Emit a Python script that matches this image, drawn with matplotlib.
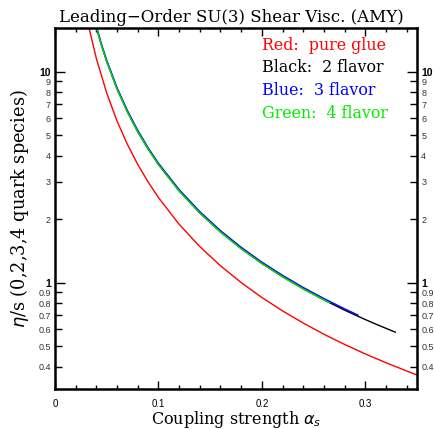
import matplotlib
matplotlib.use("Agg")
import matplotlib.pyplot as plt
from matplotlib.ticker import FixedLocator, FixedFormatter, MultipleLocator

# ---- data ----
alpha_glue = [0.0329, 0.04, 0.05, 0.06, 0.07, 0.08, 0.09, 0.10, 0.12, 0.14, 0.16, 0.18,
              0.20, 0.22, 0.24, 0.26, 0.28, 0.30, 0.32, 0.34, 0.35]
eta_glue   = [16.1, 11.53, 7.91, 5.83, 4.52, 3.63, 3.00, 2.53, 1.89, 1.481, 1.201, 1.000,
              0.850, 0.734, 0.643, 0.569, 0.509, 0.459, 0.417, 0.381, 0.365]

alpha_nf2 = [0.0401, 0.045, 0.05, 0.06, 0.07, 0.08, 0.09, 0.10, 0.12, 0.14, 0.16, 0.18,
             0.20, 0.22, 0.24, 0.26, 0.28, 0.30, 0.31, 0.329]
eta_nf2   = [16.1, 13.29, 11.16, 8.27, 6.44, 5.19, 4.30, 3.63, 2.72, 2.138, 1.737, 1.448,
             1.232, 1.066, 0.934, 0.828, 0.740, 0.668, 0.636, 0.582]

alpha_nf3 = [0.0405, 0.045, 0.05, 0.06, 0.07, 0.08, 0.09, 0.10, 0.12, 0.14, 0.16, 0.18,
             0.20, 0.22, 0.24, 0.26, 0.28, 0.293]
eta_nf3   = [16.08, 13.49, 11.33, 8.39, 6.54, 5.27, 4.36, 3.68, 2.76, 2.170, 1.763, 1.470,
             1.250, 1.082, 0.948, 0.840, 0.751, 0.701]

alpha_nf4 = [0.0401, 0.045, 0.05, 0.06, 0.07, 0.08, 0.09, 0.10, 0.12, 0.14, 0.16, 0.18,
             0.20, 0.22, 0.24, 0.26, 0.2657]
eta_nf4   = [16.1, 13.29, 11.16, 8.27, 6.44, 5.19, 4.30, 3.63, 2.72, 2.138, 1.737, 1.448,
             1.232, 1.066, 0.934, 0.828, 0.800]

series = [
    (alpha_glue, eta_glue, "red"),
    (alpha_nf2, eta_nf2, "black"),
    (alpha_nf3, eta_nf3, "blue"),
    (alpha_nf4, eta_nf4, "#00e000"),
]

legend_lines = [("Red:  pure glue", "red"), ("Black:  2 flavor", "black"),
                ("Blue:  3 flavor", "blue"), ("Green:  4 flavor", "#00ee00")]

y_major = [1, 10]
y_minor = [0.4, 0.5, 0.6, 0.7, 0.8, 0.9, 2, 3, 4, 5, 6, 7, 8, 9]
x_major = [0, 0.1, 0.2, 0.3]

serif = "DejaVu Serif"
sans = "Liberation Sans"

fig = plt.figure(figsize=(4.35, 4.29), dpi=100)
ax = fig.add_axes([55/435, 1-389/429, (417-55)/435, (389-28)/429])

for a, e, c in series:
    ax.plot(a, e, color=c, lw=1.0)

ax.set_yscale("log")
ax.set_xlim(0, 0.35)
ax.set_ylim(0.313, 16.1)

ax.xaxis.set_major_locator(FixedLocator(x_major))
ax.xaxis.set_minor_locator(MultipleLocator(0.02))
ax.set_xticklabels(["0", "0.1", "0.2", "0.3"], fontfamily=sans, fontsize=7)

ax.yaxis.set_major_locator(FixedLocator(y_major))
ax.yaxis.set_minor_locator(FixedLocator(y_minor))
ax.yaxis.set_major_formatter(FixedFormatter([str(v) for v in y_major]))
ax.yaxis.set_minor_formatter(FixedFormatter([("%g" % v) for v in y_minor]))

ax.tick_params(axis="both", which="both", direction="in", top=True, right=True,
               labelright=True, width=1.0)
ax.tick_params(axis="y", which="major", length=7, labelsize=7.5, pad=3)
ax.tick_params(axis="y", which="minor", length=5, labelsize=6.5, pad=3)
ax.tick_params(axis="x", which="major", length=6, labelsize=7, pad=7)
ax.tick_params(axis="x", which="minor", length=3)
for lab in ax.get_yticklabels(which="major"):
    lab.set_fontfamily(sans); lab.set_fontweight("bold")
for lab in ax.get_yticklabels(which="minor"):
    lab.set_fontfamily(sans); lab.set_color("#333333")

for s in ax.spines.values():
    s.set_linewidth(1.8)

ax.set_title("Leading\u2212Order SU(3) Shear Visc. (AMY)", fontfamily=serif,
             fontsize=12, pad=4, x=(231-55)/362)
ax.set_xlabel(r"Coupling strength $\alpha_s$", fontfamily=serif, fontsize=11.5, labelpad=0)
ax.set_ylabel(r"$\eta$/s (0,2,3,4 quark species)", fontfamily=serif, fontsize=12.8, labelpad=5)

for i, (t, c) in enumerate(legend_lines):
    fig.text(262/435, 1-(45+22.7*i)/429, t, color=c, fontfamily=serif, fontsize=11.4,
             va="center", ha="left")

fig.savefig("out.png", dpi=100)
